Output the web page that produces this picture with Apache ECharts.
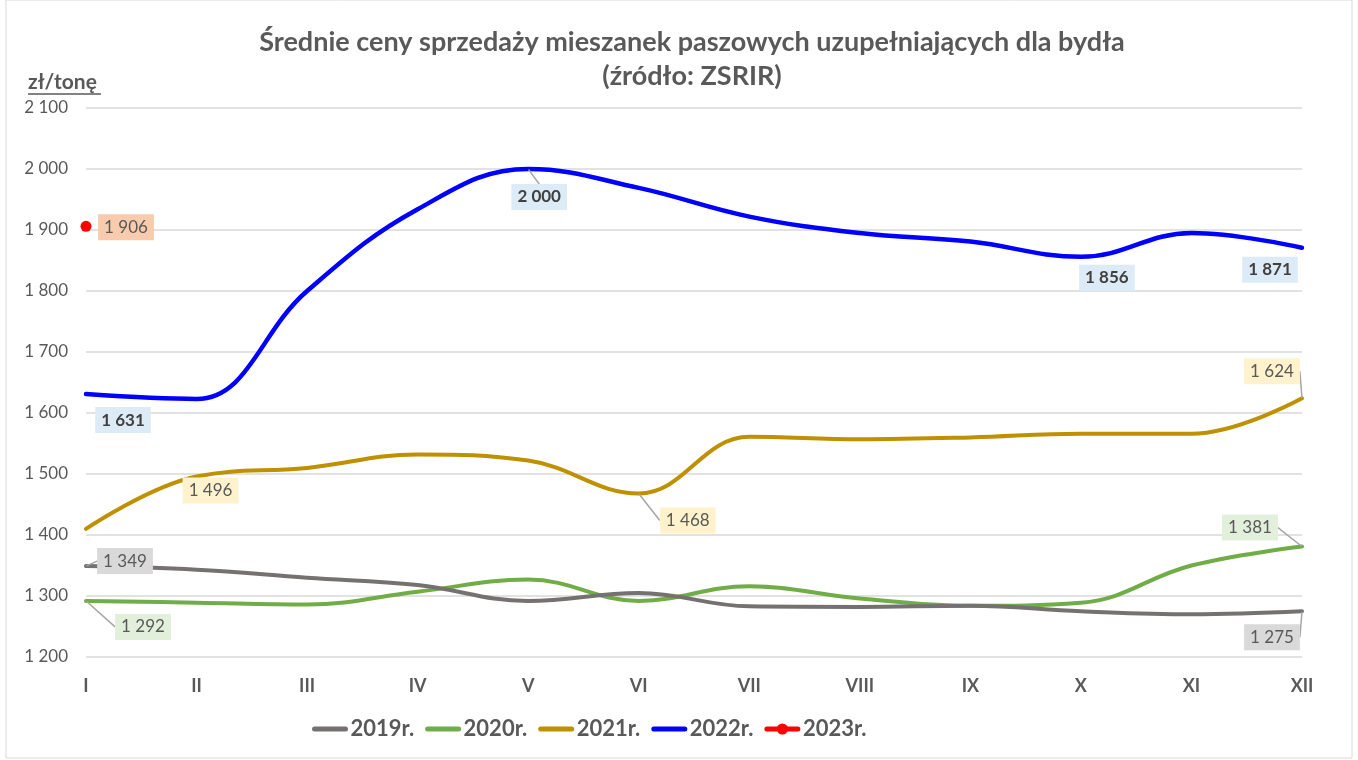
<!DOCTYPE html>
<html>
<head>
<meta charset="utf-8">
<script src="https://cdn.jsdelivr.net/npm/echarts@6/dist/echarts.min.js"></script>
<style>
  html, body { margin: 0; padding: 0; background: #fff; }
  #chart { width: 1358px; height: 760px; }
</style>
</head>
<body>
<div id="chart"></div>
<script>
// miesiące i średnie ceny (zł/tonę)
const months = ['I', 'II', 'III', 'IV', 'V', 'VI', 'VII', 'VIII', 'IX', 'X', 'XI', 'XII'];
const y2019 = [1349, 1343, 1330, 1318, 1292, 1305, 1283, 1282, 1284, 1275, 1270, 1275];
const y2020 = [1292, 1289, 1286, 1307, 1327, 1292, 1316, 1296, 1284, 1289, 1350, 1381];
const y2021 = [1410, 1496, 1510, 1532, 1522, 1468, 1561, 1557, 1560, 1566, 1566, 1624];
const y2022 = [1631, 1623, 1800, 1934, 2000, 1969, 1922, 1895, 1881, 1856, 1895, 1871];
const y2023 = [1906];
const yTicks = [1200, 2100, 100];
const legendNames = ['2019r.', '2020r.', '2021r.', '2022r.', '2023r.'];

const FONT2 = "Lato, 'Open Sans', sans-serif";
const TXT = '#595959';

// przesunięcia etykiet [dx, dy, pokaż linię]
const labelPos = {
  0: { 0: [39, -5, true], 11: [-30, 26, true] },
  1: { 0: [57, 26, true], 11: [-52, -19, true] },
  2: { 1: [14, 14, false], 5: [49, 27, true], 11: [-30, -27, true] },
  3: { 0: [37, 26, false], 4: [11, 28, true], 9: [26, 21, false], 11: [-32, 22, false] },
  4: { 0: [40, 1, false] }
};

const fmt = v => String(v).replace(/\B(?=(\d{3})+(?!\d))/g, ' ');

function mkData(values, idx) {
  const pos = labelPos[idx] || {};
  return values.map((v, i) => {
    if (!pos[i]) return v;
    return {
      value: v,
      symbol: 'circle',
      symbolSize: idx === 4 ? 11 : 1,
      label: { show: true },
      labelLine: { show: pos[i][2] }
    };
  });
}

function mkSeries(name, values, idx, color, bg, width, bold) {
  return {
    name: name,
    type: 'line',
    data: mkData(values, idx),
    smooth: 0.4,
    symbol: idx === 4 ? 'circle' : 'none',
    symbolSize: 11,
    showSymbol: true,
    itemStyle: { color: color },
    lineStyle: { color: color, width: width, cap: 'round' },
    z: 10 - idx,
    label: {
      show: false,
      position: 'inside',
      formatter: p => fmt(p.value),
      backgroundColor: bg,
      color: bold ? '#404040' : TXT,
      fontWeight: bold ? 'bold' : 'normal',
      fontFamily: FONT2,
      fontSize: 17,
      padding: [5, 6, 4, 6]
    },
    labelLine: {
      show: true,
      lineStyle: { color: '#a6a6a6', width: 1.5 }
    },
    labelLayout: function (p) {
      const o = (labelPos[p.seriesIndex] || {})[p.dataIndex];
      return o ? { dx: o[0], dy: o[1] } : {};
    },
    animation: false
  };
}

const chart = echarts.init(document.getElementById('chart'));
chart.setOption({
  backgroundColor: '#fff',
  animation: false,
  graphic: [
    {
      type: 'rect',
      shape: { x: 6, y: 0, width: 1346, height: 758 },
      style: { fill: 'none', stroke: '#d9d9d9', lineWidth: 1 },
      silent: true
    },
    {
      type: 'text',
      x: 692, y: 42,
      style: {
        text: 'Średnie ceny sprzedaży mieszanek paszowych uzupełniających dla bydła',
        textAlign: 'center', textVerticalAlign: 'middle',
        font: 'bold 27px ' + FONT2, fill: TXT
      }
    },
    {
      type: 'text',
      x: 692, y: 76,
      style: {
        text: '(źródło: ZSRIR)',
        textAlign: 'center', textVerticalAlign: 'middle',
        font: 'bold 27px ' + FONT2, fill: TXT
      }
    },
    {
      type: 'text',
      x: 28, y: 82,
      style: {
        text: 'zł/tonę', textAlign: 'left', textVerticalAlign: 'middle',
        font: 'bold 21px ' + FONT2, fill: TXT
      }
    },
    {
      type: 'line',
      shape: { x1: 28, y1: 94, x2: 101, y2: 94 },
      style: { stroke: TXT, lineWidth: 1.5 }
    }
  ],
  grid: { left: 86, right: 56, top: 108, bottom: 103 },
  legend: {
    left: 307,
    top: 713,
    itemWidth: 31,
    itemHeight: 14,
    itemGap: 11,
    textStyle: { color: TXT, fontSize: 22, fontWeight: 'bold', fontFamily: FONT2 },
    data: legendNames.map((n, i) => i < 4
      ? { name: n, itemStyle: { opacity: 0, borderWidth: 0 }, lineStyle: { width: 5 } }
      : { name: n, lineStyle: { width: 5 } })
  },
  xAxis: {
    type: 'category',
    data: months,
    boundaryGap: false,
    axisLine: { show: false },
    axisTick: { show: false },
    axisLabel: { color: TXT, fontSize: 18, fontWeight: 'bold', fontFamily: FONT2, margin: 20 }
  },
  yAxis: {
    type: 'value',
    min: yTicks[0],
    max: yTicks[1],
    interval: yTicks[2],
    axisLine: { show: false },
    axisTick: { show: false },
    splitLine: { lineStyle: { color: '#d9d9d9', width: 1.5 } },
    axisLabel: { color: TXT, fontSize: 17, fontFamily: FONT2, margin: 18, formatter: fmt }
  },
  series: [
    mkSeries(legendNames[0], y2019, 0, '#767171', '#d9d9d9', 4, false),
    mkSeries(legendNames[1], y2020, 1, '#70ad47', '#e2efda', 4, false),
    mkSeries(legendNames[2], y2021, 2, '#bf9000', '#fff2cc', 4, false),
    mkSeries(legendNames[3], y2022, 3, '#0000ff', '#ddebf7', 4.5, true),
    mkSeries(legendNames[4], y2023, 4, '#ff0000', '#f8cbad', 4, false)
  ]
});
</script>
</body>
</html>
